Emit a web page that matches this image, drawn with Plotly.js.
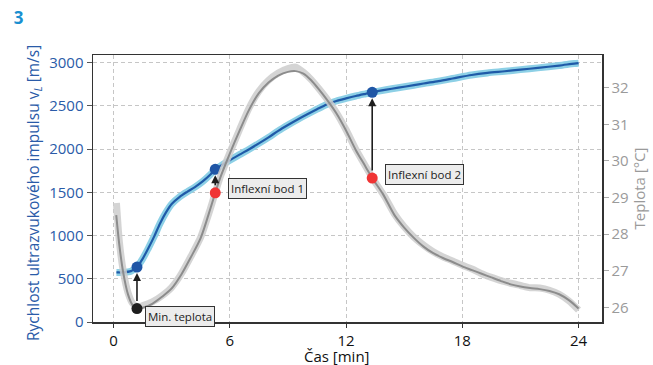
<!DOCTYPE html>
<html><head><meta charset="utf-8">
<script src="https://cdn.plot.ly/plotly-3.0.1.min.js"></script>
<style>html,body{margin:0;padding:0;background:#fff}</style>
</head><body><div id="chart" style="width:653px;height:365px"></div>
<script>
// Velocity of ultrasonic pulse [m/s] vs time [min]
const timeVel = [0.15, 0.5, 0.9, 1.21, 1.5, 1.8, 2.1, 2.4, 2.7, 3.0, 3.4, 3.8, 4.2, 4.6, 5.0, 5.25, 5.6, 6.0, 6.5, 7.0, 7.5, 8.0, 8.5, 9.0, 9.5, 10.0, 10.5, 11.0, 11.5, 12.0, 12.5, 13.0, 13.35, 14.0, 14.7, 15.5, 16.0, 16.77, 17.5, 18.48, 19.3, 20.19, 21.0, 21.9, 23.0, 23.78, 24.0];
const velocity = [573, 574, 588, 635, 730, 855, 990, 1140, 1265, 1365, 1445, 1505, 1560, 1625, 1705, 1765, 1815, 1870, 1935, 1998, 2065, 2135, 2210, 2278, 2342, 2402, 2460, 2515, 2555, 2585, 2613, 2638, 2655, 2683, 2709, 2738, 2758, 2785, 2815, 2856, 2880, 2899, 2918, 2938, 2965, 2988, 2992];

// Temperature [°C] — measured (noisy band)
const timeTempRaw = [0.15, 0.3, 0.5, 0.75, 1.0, 1.25, 1.5, 2.0, 2.5, 3.0, 3.5, 4.0, 4.5, 5.0, 5.5, 6.0, 6.5, 7.0, 7.5, 8.0, 8.5, 9.0, 9.4, 9.8, 10.2, 10.6, 11.0, 11.5, 12.0, 12.5, 13.0, 13.5, 14.0, 14.5, 15.0, 15.5, 16.0, 16.5, 17.0, 17.5, 18.0, 18.5, 19.0, 19.5, 20.0, 20.5, 21.0, 21.5, 22.0, 22.5, 23.0, 23.5, 24.0];
const tempRaw = [28.85, 27.8, 27.0, 26.4, 26.1, 26.02, 26.05, 26.15, 26.32, 26.55, 26.92, 27.4, 27.92, 28.7, 29.55, 30.22, 30.85, 31.45, 31.9, 32.2, 32.4, 32.52, 32.56, 32.42, 32.22, 31.97, 31.7, 31.32, 30.85, 30.32, 29.86, 29.42, 29.02, 28.55, 28.2, 27.92, 27.7, 27.52, 27.38, 27.27, 27.15, 27.05, 26.92, 26.82, 26.73, 26.66, 26.6, 26.54, 26.53, 26.47, 26.36, 26.18, 25.93];

// Temperature [°C] — fitted curve
const timeTempFit = [0.14, 0.3, 0.5, 0.75, 1.0, 1.21, 1.5, 2.0, 2.5, 3.0, 3.5, 4.0, 4.5, 5.0, 5.25, 5.5, 6.0, 6.5, 7.0, 7.5, 8.0, 8.5, 9.0, 9.4, 9.8, 10.2, 10.6, 11.0, 11.5, 12.0, 12.5, 13.0, 13.35, 13.9, 14.5, 15.0, 15.5, 16.0, 16.5, 17.0, 17.5, 18.0, 18.5, 19.0, 19.5, 20.0, 20.5, 21.0, 21.5, 22.0, 22.5, 23.0, 23.5, 24.0];
const tempFit = [28.52, 27.7, 26.95, 26.35, 26.05, 25.97, 25.99, 26.1, 26.29, 26.52, 26.9, 27.38, 27.9, 28.7, 29.13, 29.53, 30.2, 30.82, 31.4, 31.85, 32.14, 32.33, 32.43, 32.45, 32.38, 32.2, 31.95, 31.68, 31.3, 30.83, 30.3, 29.85, 29.53, 29.1, 28.52, 28.18, 27.9, 27.66, 27.48, 27.35, 27.24, 27.12, 27.02, 26.92, 26.82, 26.72, 26.63, 26.57, 26.53, 26.5, 26.45, 26.36, 26.2, 25.97];

// Marked events
const eventLabels = ['Min. teplota', 'Inflexní bod 1', 'Inflexní bod 2'];
const eventTime = [1.21, 5.25, 13.35];
const eventVel = [635, 1765, 2655];
const eventTemp = [25.97, 29.13, 29.53];

// Ticks
const xTicks = [0, 6, 12, 18, 24];
const yTicks = [0, 500, 1000, 1500, 2000, 2500, 3000];
const y2Ticks = [26, 27, 28, 29, 30, 31, 32];

const yRange = [0, 3087];
const y2Range = [25.603, 32.89];
function tempToVel(t) {
  return yRange[0] + (t - y2Range[0]) / (y2Range[1] - y2Range[0]) * (yRange[1] - yRange[0]);
}

const FONT = 'Open Sans, Noto Sans, sans-serif';
const BLUE_TXT = '#2a5ba8';
const GREY_TXT = '#9a9a9a';
const GRID = '#c6c6c6';

const traces = [
  {x: timeVel, y: velocity, type: 'scatter', mode: 'lines', line: {color: '#8dd0e6', width: 7, shape: 'spline', smoothing: 0.8}},
  {x: timeVel, y: velocity, type: 'scatter', mode: 'lines', line: {color: '#1f5aa8', width: 2.2, shape: 'spline', smoothing: 0.8}},
  {x: eventTime, y: eventVel, type: 'scatter', mode: 'markers', marker: {color: '#1f56a6', size: 11}},
  {x: timeTempRaw, y: tempRaw, yaxis: 'y2', type: 'scatter', mode: 'lines', line: {color: 'rgba(205,205,205,0.85)', width: 7, shape: 'spline', smoothing: 0.6}},
  {x: timeTempFit, y: tempFit, yaxis: 'y2', type: 'scatter', mode: 'lines', line: {color: '#8c8c8c', width: 2, shape: 'spline', smoothing: 0.8}},
  {x: eventTime.slice(0, 1), y: eventTemp.slice(0, 1), yaxis: 'y2', type: 'scatter', mode: 'markers', marker: {color: '#1e1e1e', size: 11}},
  {x: eventTime.slice(1), y: eventTemp.slice(1), yaxis: 'y2', type: 'scatter', mode: 'markers', marker: {color: '#f03434', size: 11}}
];

const annotations = [];
const labelShift = [[8, -8], [13, 4], [13, 4]];
eventTime.forEach((t, i) => {
  annotations.push({
    x: t, y: eventVel[i], xref: 'x', yref: 'y',
    ax: t, ay: tempToVel(eventTemp[i]), axref: 'x', ayref: 'y',
    text: '', showarrow: true, arrowhead: 2, arrowsize: 1, arrowwidth: 1.6,
    arrowcolor: '#1e1e1e', standoff: 6, startstandoff: 6
  });
  annotations.push({
    x: t, y: eventTemp[i], xref: 'x', yref: 'y2',
    xanchor: 'left', yanchor: 'middle',
    xshift: labelShift[i][0], yshift: labelShift[i][1],
    text: eventLabels[i], showarrow: false,
    font: {family: FONT, size: 11.5, color: '#222'},
    bgcolor: '#ececec', bordercolor: '#333', borderwidth: 1, borderpad: 2
  });
});
// axis titles placed as annotations
annotations.push({
  text: 'Čas [min]', xref: 'paper', yref: 'paper', x: 0.48, y: -0.128,
  xanchor: 'center', yanchor: 'middle', showarrow: false,
  font: {family: FONT, size: 15, color: '#111'}
});
annotations.push({
  text: 'Rychlost ultrazvukového impulsu v<sub><i>L</i></sub> [m/s]', xref: 'paper', yref: 'paper',
  x: -0.1179, y: 0.483, xanchor: 'center', yanchor: 'middle', textangle: -90, showarrow: false,
  font: {family: FONT, size: 15.5, color: BLUE_TXT}
});

const layout = {
  width: 653, height: 365,
  margin: {l: 93, r: 51, t: 55, b: 43},
  paper_bgcolor: '#fff', plot_bgcolor: '#fff',
  showlegend: false,
  font: {family: FONT, size: 15},
  title: {text: '<b>3</b>', x: 0.021, xref: 'container', xanchor: 'left', y: 0.95, yref: 'container', yanchor: 'middle',
          font: {family: FONT, size: 17, color: '#1a8fd0'}},
  xaxis: {
    range: [-1.06, 25.21], tickvals: xTicks, ticktext: xTicks.map(String),
    showgrid: true, gridcolor: GRID, griddash: '4px,3px', gridwidth: 1,
    zeroline: false, showline: true, linecolor: '#333', linewidth: 1.5, mirror: true,
    ticks: 'outside', ticklen: 4, tickcolor: '#333',
    tickfont: {family: FONT, size: 15, color: '#111'}
  },
  yaxis: {
    range: yRange, tickvals: yTicks,
    showgrid: true, gridcolor: GRID, griddash: '4px,3px', gridwidth: 1,
    zeroline: false, showline: true, linecolor: '#333', linewidth: 1.5, mirror: true,
    ticks: 'outside', ticklen: 5, tickcolor: '#555',
    tickfont: {family: FONT, size: 15, color: BLUE_TXT}
  },
  yaxis2: {
    range: y2Range, overlaying: 'y', side: 'right', tickvals: y2Ticks,
    showgrid: false, zeroline: false, showline: true, linecolor: '#333', linewidth: 1.5,
    ticks: 'outside', ticklen: 5, tickcolor: '#aaa',
    tickfont: {family: FONT, size: 15, color: GREY_TXT},
    title: {text: 'Teplota [°C]', font: {family: FONT, size: 15, color: GREY_TXT}, standoff: 6}
  },
  annotations: annotations
};

Plotly.newPlot('chart', traces, layout, {displayModeBar: false, staticPlot: true});
</script>
</body></html>
